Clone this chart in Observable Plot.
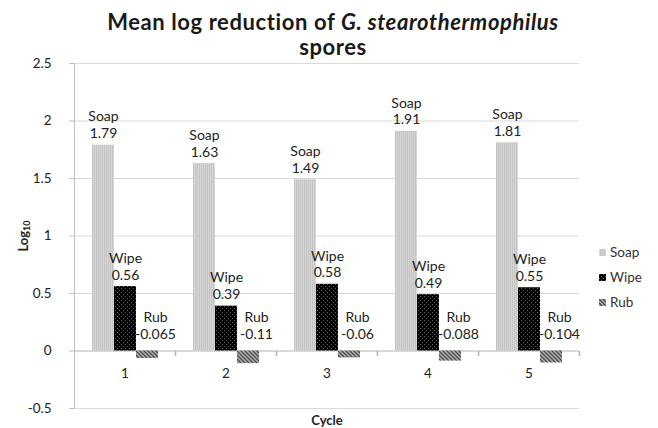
<!DOCTYPE html>
<html>
<head>
<meta charset="utf-8">
<script src="https://cdn.jsdelivr.net/npm/d3@7"></script>
<script src="https://cdn.jsdelivr.net/npm/@observablehq/plot@0.6"></script>
<style>
  html, body { margin: 0; padding: 0; background: #fff; }
  #wrap { position: relative; width: 658px; height: 428px; overflow: hidden; font-family: Lato, "Open Sans", sans-serif; color: #222; }
  #title { position: absolute; left: 4px; top: 9px; width: 658px; text-align: center; font-weight: bold; font-size: 22px; letter-spacing: 0.6px; line-height: 25px; color: #1a1a1a; }
  #chart { position: absolute; left: 0; top: 56px; }
  #ylabel { position: absolute; left: -7px; top: 227px; width: 60px; height: 18px; line-height: 18px; text-align: center; font-weight: bold; font-size: 13px; transform: rotate(-90deg); color: #222; }
  #ylabel sub { font-size: 9px; vertical-align: -2px; line-height: 0; }
  #xlabel { position: absolute; left: 297px; top: 412px; width: 60px; line-height: 16px; text-align: center; font-weight: bold; font-size: 13px; color: #222; }
  #legend { position: absolute; left: 599px; top: 240px; font-size: 13.5px; color: #333; }
  #legend .row { height: 25px; line-height: 25px; white-space: nowrap; }
  #legend svg { vertical-align: middle; margin-right: 4px; position: relative; top: -1px; }
</style>
</head>
<body>
<div id="wrap">
  <div id="title">Mean log reduction of <i>G. stearothermophilus</i><br>spores</div>
  <div id="chart"></div>
  <div id="ylabel">Log<sub>10</sub></div>
  <div id="xlabel">Cycle</div>
  <div id="legend"></div>
</div>
<script>
// ---- data ----
const cycles = [1, 2, 3, 4, 5];
const series = ["Soap", "Wipe", "Rub"];
const soap = [1.79, 1.63, 1.49, 1.91, 1.81];
const wipe = [0.56, 0.39, 0.58, 0.49, 0.55];
const rub = [-0.065, -0.11, -0.06, -0.088, -0.104];
const yTicks = [-0.5, 0, 0.5, 1, 1.5, 2, 2.5];
const gridTicks = [-0.5, 0.5, 1, 1.5, 2, 2.5];

const valuesBySeries = {Soap: soap, Wipe: wipe, Rub: rub};
const patternOf = {Soap: "url(#pSoap)", Wipe: "url(#pWipe)", Rub: "url(#pRub)"};
const rows = cycles.flatMap((c, i) => series.map(s => ({cycle: c, series: s, value: valuesBySeries[s][i]})));

const tickSymbol = {draw(ctx) { ctx.moveTo(0, 0); ctx.lineTo(0, 5); }};

const plot = Plot.plot({
  width: 658,
  height: 372,
  marginLeft: 73,
  marginRight: 78,
  marginTop: 7,
  marginBottom: 20,
  style: {fontFamily: "Lato, 'Open Sans', sans-serif", fontSize: "13px", color: "#222", background: "transparent"},
  fx: {domain: cycles, padding: 0, axis: null},
  x: {domain: series, paddingInner: 0, paddingOuter: 0.75, axis: null},
  y: {domain: [-0.5, 2.5]},
  color: {type: "identity"},
  marks: [
    Plot.ruleY(gridTicks, {stroke: "#d9d9d9"}),
    Plot.ruleY([0], {stroke: "#b3b3b3"}),
    Plot.frame({anchor: "left", facetAnchor: "left", stroke: "#bfbfbf"}),
    Plot.axisY(yTicks, {tickSize: 5, tickPadding: 18, tickFormat: d => String(d), stroke: "#bfbfbf", fill: "#222", fontSize: 13.5, label: null}),
    Plot.dot(cycles, {fx: d => d, y: () => 0, frameAnchor: "right", symbol: tickSymbol, r: 2, stroke: "#b3b3b3", fill: "none"}),
    Plot.barY(rows, {fx: "cycle", x: "series", y: "value", fill: d => patternOf[d.series]}),
    Plot.text(cycles, {fx: d => d, y: () => 0, text: d => String(d), dy: 23, fill: "#222", fontSize: 13.5}),
    Plot.text(rows.filter(d => d.series !== "Rub"), {
      fx: "cycle", x: "series", y: "value",
      text: d => `${d.series}\n${d.value}`,
      lineAnchor: "bottom", lineHeight: 1.2, dy: -7, fill: "#222", fontSize: 14
    }),
    Plot.text(rows.filter(d => d.series === "Rub"), {
      fx: "cycle", x: "series", y: () => 0,
      text: d => `${d.series}\n${d.value}`,
      lineAnchor: "bottom", lineHeight: 1.2, dy: -12, dx: 8, fill: "#222", fontSize: 14
    })
  ]
});

// patterns
const svg = d3.select(plot);
const defs = svg.insert("defs", ":first-child");
const pS = defs.append("pattern").attr("id", "pSoap").attr("patternUnits", "userSpaceOnUse").attr("width", 2).attr("height", 2);
pS.append("rect").attr("width", 2).attr("height", 2).attr("fill", "#c4c4c4");
pS.append("rect").attr("width", 1).attr("height", 2).attr("fill", "#d6d6d6");
const pW = defs.append("pattern").attr("id", "pWipe").attr("patternUnits", "userSpaceOnUse").attr("width", 4).attr("height", 4);
pW.append("rect").attr("width", 4).attr("height", 4).attr("fill", "#000");
pW.append("rect").attr("x", 0).attr("y", 0).attr("width", 1).attr("height", 1).attr("fill", "#666");
pW.append("rect").attr("x", 2).attr("y", 2).attr("width", 1).attr("height", 1).attr("fill", "#666");
const pR = defs.append("pattern").attr("id", "pRub").attr("patternUnits", "userSpaceOnUse").attr("width", 4).attr("height", 4);
pR.append("rect").attr("width", 4).attr("height", 4).attr("fill", "#b0b0b0");
pR.append("path").attr("d", "M-1,3 l2,2 M0,0 l4,4 M3,-1 l2,2").attr("stroke", "#4a4a4a").attr("stroke-width", 1.3);

document.getElementById("chart").appendChild(plot);

// legend
const legend = d3.select("#legend");
series.forEach(s => {
  const row = legend.append("div").attr("class", "row");
  const sw = row.append("svg").attr("width", 7).attr("height", 7);
  sw.append("rect").attr("width", 7).attr("height", 7).attr("fill", patternOf[s]);
  row.append("span").text(s);
});
</script>
</body>
</html>
